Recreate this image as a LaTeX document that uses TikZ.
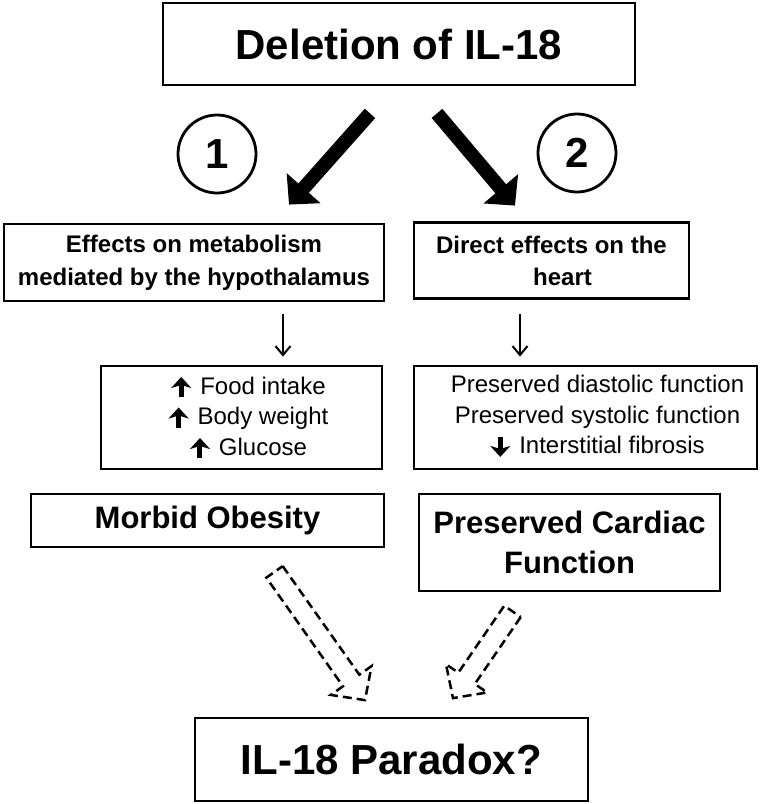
\documentclass[tikz,border=0pt]{standalone}
\usepackage{fontspec}
\setmainfont{Liberation Sans}
\usetikzlibrary{arrows.meta,calc}
\newcommand\upar{\tikz[x=1pt,y=1pt,baseline=3pt]{\draw[line width=5pt,-{Stealth[length=11pt,width=20pt,inset=3pt]}] (0,0) -- (0,20);}\hspace{9pt}}
\newcommand\dnar{\tikz[x=1pt,y=1pt,baseline=3pt]{\draw[line width=5pt,-{Stealth[length=11pt,width=20pt,inset=3pt]}] (0,20) -- (0,0);}\hspace{9pt}}
\tikzset{
  box/.style={draw, line width=2.8pt, inner sep=0pt, align=center},
  circ/.style={draw, circle, line width=2.8pt, inner sep=0pt, minimum size=78pt,
    font=\fontsize{42}{48}\selectfont\bfseries},
  bigarrow/.style={line width=14pt, -{Triangle[length=22pt,width=44pt]}},
  thinarrow/.style={line width=2pt, -{Straight Barb[length=9pt,width=15pt]}},
  dasharrow/.style={draw, line width=2.5pt, dash pattern=on 9pt off 5pt, line join=miter},
  bigbold/.style={font=\fontsize{42}{48}\selectfont\bfseries},
  midbold/.style={font=\fontsize{31}{40}\selectfont\bfseries},
  smallbold/.style={font=\fontsize{24}{33}\selectfont\bfseries},
  listtext/.style={font=\fontsize{24}{30.5}\selectfont},
}
\begin{document}
\begin{tikzpicture}[x=1pt,y=-1pt]
\useasboundingbox (0,0) rectangle (760,804);
\fill[white] (0,0) rectangle (760,804);

% boxes
\node[box, bigbold, minimum width=472pt, minimum height=82pt] (top) at (399,44) {Deletion of IL-18};
\node[circ] (c1) at (217,154) {1};
\node[circ] (c2) at (577,153) {2};

\node[box, smallbold, minimum width=380pt, minimum height=77pt] (eff) at (194,262.5)
  {Effects on metabolism\\mediated by the hypothalamus};
\node[box, font=\fontsize{24}{32}\selectfont\bfseries, minimum width=275pt, minimum height=76pt] (direct) at (551.5,260.5)
  {Direct effects on the\\\hspace*{22pt}heart};

\node[box, listtext, minimum width=281pt, minimum height=103pt] (food) at (241.5,417.5)
  {\hspace*{14pt}\upar Food intake\\\hspace*{14pt}\upar Body weight\\\hspace*{14pt}\upar Glucose};
\node[box, listtext, minimum width=343pt, minimum height=103pt] (heart) at (585.5,417.5)
  {\hspace*{24pt}Preserved diastolic function\\\hspace*{24pt}Preserved systolic function\\\hspace*{24pt}\dnar Interstitial fibrosis};

\node[box, midbold, minimum width=353pt, minimum height=53pt] (morbid) at (207.5,520.5) {Morbid Obesity};
\node[box, midbold, minimum width=301pt, minimum height=97pt] (cardiac) at (569.5,542.5) {Preserved Cardiac\\Function};

\node[box, bigbold, minimum width=393pt, minimum height=83pt] (paradox) at (391.5,759.5) {IL-18 Paradox?};

% thick arrows
\draw[bigarrow] ($(top.south)+(-29,27)$) -- ($(eff.north)+(95,-18)$);
\draw[bigarrow] ($(top.south)+(38,27)$) -- ($(direct.north)+(-36.5,-15.5)$);

% thin arrows
\draw[thinarrow] ($(eff.south)+(89,12)$) -- ($(food.north)+(41.5,-8)$);
\draw[thinarrow] ($(direct.south)+(-31.5,14.5)$) -- ($(heart.north)+(-65.5,-8)$);

% dashed hollow arrows
\coordinate (d1s) at ($(morbid.south)+(67,23.5)$);
\coordinate (d1e) at ($(paradox.north)+(-26.5,-16.5)$);
\coordinate (d1h) at ($(d1e)!24pt!(d1s)$);
\draw[dasharrow] ($(d1s)!10pt!90:(d1e)$) -- ($(d1h)!10pt!90:(d1e)$) -- ($(d1h)!25pt!90:(d1e)$)
  -- (d1e) -- ($(d1h)!25pt!-90:(d1e)$) -- ($(d1h)!10pt!-90:(d1e)$) -- ($(d1s)!10pt!-90:(d1e)$) -- cycle;

\coordinate (d2s) at ($(cardiac.south)+(-57,19)$);
\coordinate (d2e) at ($(paradox.north)+(61.5,-18.5)$);
\coordinate (d2h) at ($(d2e)!24pt!(d2s)$);
\draw[dasharrow] ($(d2s)!10pt!90:(d2e)$) -- ($(d2h)!10pt!90:(d2e)$) -- ($(d2h)!25pt!90:(d2e)$)
  -- (d2e) -- ($(d2h)!25pt!-90:(d2e)$) -- ($(d2h)!10pt!-90:(d2e)$) -- ($(d2s)!10pt!-90:(d2e)$) -- cycle;
\end{tikzpicture}
\end{document}
